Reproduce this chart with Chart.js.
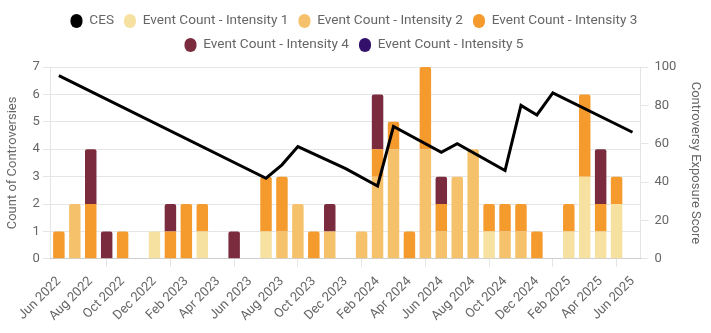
<!DOCTYPE html>
<html lang="en">
<head>
  <meta charset="UTF-8"/>
  <title>Controversy Events and Exposure Score</title>
  <script src="https://cdn.jsdelivr.net/npm/chart.js"></script>
  <style>
    html, body { margin: 0; padding: 0; background: #fff; }
    .chart-box { width: 711px; height: 333px; position: relative; }
  </style>
</head>
<body>
<div class="chart-box">
  <canvas id="controversyChart"></canvas>
</div>
<script>
  // Monthly periods, Jun 2022 - Jun 2025
  const months = [
    'Jun 2022', 'Jul 2022', 'Aug 2022', 'Sep 2022', 'Oct 2022', 'Nov 2022', 'Dec 2022',
    'Jan 2023', 'Feb 2023', 'Mar 2023', 'Apr 2023', 'May 2023', 'Jun 2023', 'Jul 2023',
    'Aug 2023', 'Sep 2023', 'Oct 2023', 'Nov 2023', 'Dec 2023', 'Jan 2024', 'Feb 2024',
    'Mar 2024', 'Apr 2024', 'May 2024', 'Jun 2024', 'Jul 2024', 'Aug 2024', 'Sep 2024',
    'Oct 2024', 'Nov 2024', 'Dec 2024', 'Jan 2025', 'Feb 2025', 'Mar 2025', 'Apr 2025',
    'May 2025', 'Jun 2025'
  ];

  // event counts per month by intensity
  const intensity1 = [0,0,0,0,0,0,1, 0,0,1,0,0,0,1, 0,0,0,0,0,0,0, 0,0,0,0,0,0,1, 0,0,0,0,1,3,1, 2,0];
  const intensity2 = [0,2,0,0,0,0,0, 0,0,0,0,0,0,0, 1,2,0,1,0,1,3, 4,0,4,1,3,4,0, 1,1,0,0,0,0,0, 0,0];
  const intensity3 = [1,0,2,0,1,0,0, 1,2,1,0,0,0,2, 2,0,1,0,0,0,1, 1,1,3,1,0,0,1, 1,1,1,0,1,3,1, 1,0];
  const intensity4 = [0,0,2,1,0,0,0, 1,0,0,0,1,0,0, 0,0,0,1,0,0,2, 0,0,0,1,0,0,0, 0,0,0,0,0,0,2, 0,0];
  const intensity5 = [0,0,0,0,0,0,0, 0,0,0,0,0,0,0, 0,0,0,0,0,0,0, 0,0,0,0,0,0,0, 0,0,0,0,0,0,0, 0,0];

  // exposure score, only where it was measured (line spans the gaps)
  const ces = [
    95.5, null, null, null, null, null, null,
    null, null, null, null, null, null, 42,
    49, 58.5, null, null, 47, null, 38,
    69, null, null, 55.5, 60, null, null,
    46, 80, 75, 86.5, null, null, null,
    null, 66
  ];

  const countTicks = [0, 1, 2, 3, 4, 5, 6, 7];
  const scoreTicks = [0, 20, 40, 60, 80, 100];

  Chart.defaults.font.family = 'Roboto, "Noto Sans", sans-serif';
  Chart.defaults.color = '#666';

  const barSet = (label, data, color) => ({
    type: 'bar',
    label: label,
    data: data,
    backgroundColor: color,
    borderColor: color,
    borderRadius: 2,
    stack: 'events',
    yAxisID: 'y'
  });

  // a little extra room under the legend
  const legendGap = {
    id: 'legendGap',
    beforeInit(chart) {
      const fit = chart.legend.fit;
      chart.legend.fit = function () {
        fit.bind(chart.legend)();
        this.height += 5;
      };
    }
  };

  new Chart(document.getElementById('controversyChart'), {
    data: {
      labels: months,
      datasets: [
        {
          type: 'line',
          label: 'CES',
          data: ces,
          borderColor: '#000',
          backgroundColor: '#000',
          borderWidth: 3,
          pointRadius: 0,
          tension: 0,
          spanGaps: true,
          yAxisID: 'y1'
        },
        barSet('Event Count - Intensity 1', intensity1, '#f6e1a1'),
        barSet('Event Count - Intensity 2', intensity2, '#f5c26b'),
        barSet('Event Count - Intensity 3', intensity3, '#f59a2c'),
        barSet('Event Count - Intensity 4', intensity4, '#7a2c3e'),
        barSet('Event Count - Intensity 5', intensity5, '#33106a')
      ]
    },
    plugins: [legendGap],
    options: {
      responsive: true,
      maintainAspectRatio: false,
      animation: false,
      layout: { padding: { top: 4, left: 1, right: 4, bottom: 2 } },
      plugins: {
        legend: {
          position: 'top',
          labels: {
            font: { size: 13.6 },
            boxWidth: 12,
            boxHeight: 14,
            useBorderRadius: true,
            borderRadius: 6,
            padding: 10,
            generateLabels: chart => Chart.defaults.plugins.legend.labels.generateLabels(chart)
              .map(item => Object.assign(item, { lineWidth: 0 }))
          }
        },
        tooltip: { enabled: false }
      },
      scales: {
        x: {
          stacked: true,
          grid: { drawOnChartArea: false },
          ticks: {
            font: { size: 13 },
            minRotation: 45,
            maxRotation: 45,
            padding: 7,
            autoSkip: true,
            maxTicksLimit: 19
          }
        },
        y: {
          stacked: true,
          position: 'left',
          min: countTicks[0],
          max: countTicks[countTicks.length - 1],
          afterBuildTicks: axis => { axis.ticks = countTicks.map(v => ({ value: v })); },
          ticks: { font: { size: 13 } },
          title: {
            display: true,
            text: 'Count of Controversies',
            font: { size: 13 },
            padding: { top: 4, bottom: 9 }
          }
        },
        y1: {
          position: 'right',
          min: scoreTicks[0],
          max: scoreTicks[scoreTicks.length - 1],
          afterBuildTicks: axis => { axis.ticks = scoreTicks.map(v => ({ value: v })); },
          grid: { drawOnChartArea: false },
          ticks: { font: { size: 13 }, padding: 6 },
          title: {
            display: true,
            text: 'Controversy Exposure Score',
            font: { size: 13 },
            padding: { top: 4, bottom: 5 }
          }
        }
      }
    }
  });
</script>
</body>
</html>
